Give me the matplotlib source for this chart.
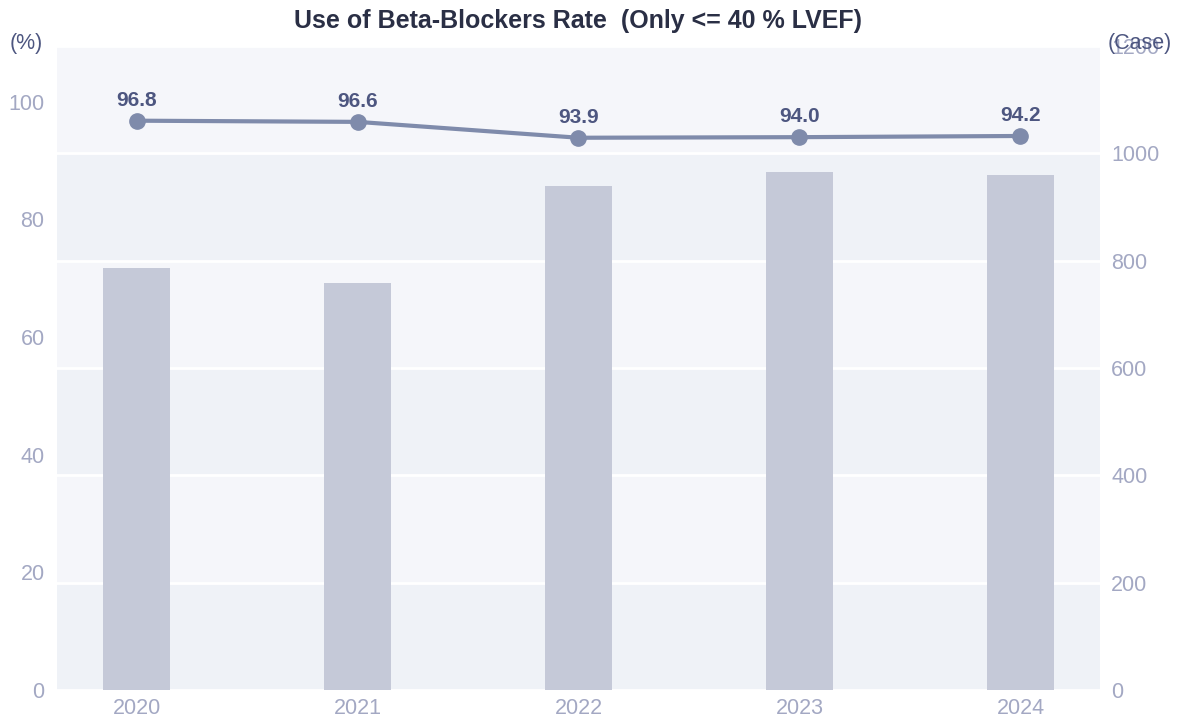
import numpy as np
import matplotlib
matplotlib.use("Agg")
import matplotlib.pyplot as plt

plt.rcParams['font.family'] = ['Liberation Sans', 'DejaVu Sans']

### data
years = ['2020', '2021', '2022', '2023', '2024']
rate = [96.8, 96.6, 93.9, 94.0, 94.2]      # (%), left axis
cases = [786, 758, 940, 966, 960]          # (Case), right axis
left_ticks = [0, 20, 40, 60, 80, 100]
right_ticks = [0, 200, 400, 600, 800, 1000, 1200]

### colours
bar_c = '#c5c9d8'
line_c = '#7f8bab'
label_c = '#4d5680'
tick_c = '#a3a8c3'
band_dark = '#eff2f7'
band_light = '#f5f6fa'

fig = plt.figure(figsize=(11.81, 7.22), dpi=100)
ax = fig.add_axes([57/1181, 32/722, (1100-57)/1181, (690-46)/722])
ax2 = ax.twinx()

x = np.arange(len(years))

# background bands + white grid (follow right axis)
for i in range(len(right_ticks) - 1):
    c = band_dark if i % 2 == 0 else band_light
    ax2.axhspan(right_ticks[i], right_ticks[i+1], color=c, lw=0, zorder=0)
for t in right_ticks:
    ax2.axhline(t, color='white', lw=2, zorder=1)

ax2.bar(x, cases, width=0.3, color=bar_c, zorder=2)

ax.plot(x, rate, color=line_c, lw=3, marker='o', ms=11, zorder=3)
for xi, v in zip(x, rate):
    ax.annotate(f'{v:.1f}', (xi, v), xytext=(0, 8), textcoords='offset points',
                ha='center', va='bottom', fontsize=15, fontweight='bold', color=label_c)

ax.set_zorder(ax2.get_zorder() + 1)
ax.patch.set_visible(False)

ax.set_xlim(-0.36, 4.36)
ax.set_ylim(0, 109.5)
ax2.set_ylim(0, 1200)

ax.set_xticks(x)
ax.set_xticklabels(years)
ax.set_yticks(left_ticks)
ax2.set_yticks(right_ticks)

for a in (ax, ax2):
    for s in a.spines.values():
        s.set_visible(False)
    a.tick_params(length=0, labelsize=15.5, colors=tick_c)
ax.tick_params(axis='y', pad=9)
ax.tick_params(axis='x', pad=6)
ax2.tick_params(axis='y', pad=8)

fig.text(26/1181, 1 - 44/722, '(%)', ha='center', va='center', fontsize=15.5, color=label_c)
fig.text(1140/1181, 1 - 44/722, '(Case)', ha='center', va='center', fontsize=15.5, color=label_c)
fig.text(578/1181, 1 - 21/722, 'Use of Beta-Blockers Rate  (Only <= 40 % LVEF)',
         ha='center', va='center', fontsize=18, fontweight='bold', color='#2a2f45')

fig.savefig('out.png', dpi=100)
